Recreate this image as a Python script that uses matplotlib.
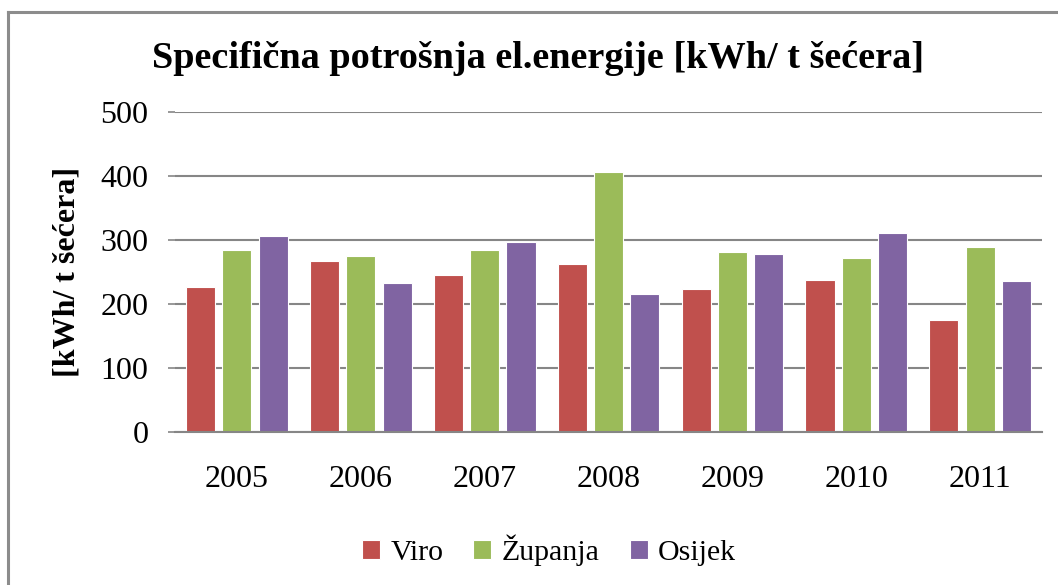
import matplotlib
matplotlib.use("Agg")
import matplotlib.pyplot as plt
from matplotlib.lines import Line2D
import numpy as np

# ── Data ──────────────────────────────────────────────────────────────────────
years   = ["2005", "2006", "2007", "2008", "2009", "2010", "2011"]
viro    = [227, 267, 246, 262, 224, 237, 175]
zupanja = [285, 275, 284, 406, 281, 272, 289]
osijek  = [307, 233, 297, 215, 278, 311, 236]
series_names = ["Viro", "Županja", "Osijek"]
y_ticks = [0, 100, 200, 300, 400, 500]

# ── Style ─────────────────────────────────────────────────────────────────────
RED    = "#C0504D"
GREEN  = "#9BBB59"
PURPLE = "#8064A2"
GRIDC  = "#868686"
BORDER = "#8C8C8C"

plt.rcParams["font.family"] = ["Liberation Serif", "DejaVu Serif"]

fig = plt.figure(figsize=(10.58, 5.85), dpi=100)
ax = fig.add_axes([0.1654, 0.2615, 0.8196, 0.547])

x = np.arange(len(years))
step = 0.293
width = 0.235
for i, (vals, col, name) in enumerate(zip([viro, zupanja, osijek], [RED, GREEN, PURPLE], series_names)):
    ax.bar(x + (i - 1) * step, vals, width=width, color=col, edgecolor="white",
           linewidth=0.8, label=name, zorder=3)

ax.set_xlim(-0.5, len(years) - 0.5)
ax.set_ylim(0, 500)
ax.set_yticks(y_ticks)
ax.set_xticks(x)
ax.set_xticklabels(years)
ax.tick_params(axis="x", length=0, pad=24, labelsize=23)
ax.tick_params(axis="y", length=5, width=1.2, color=GRIDC, pad=14, labelsize=23)
ax.yaxis.grid(True, color=GRIDC, linewidth=1.5, zorder=0)
ax.set_axisbelow(True)
for side in ["top", "right", "left"]:
    ax.spines[side].set_visible(False)
ax.spines["bottom"].set_color(GRIDC)
ax.spines["bottom"].set_linewidth(1.5)
ax.spines["bottom"].set_zorder(4)

ax.set_ylabel("[kWh/ t šećera]", fontsize=23, fontweight="bold", labelpad=14)

fig.text(0.509, 0.90, "Specifična potrošnja el.energije [kWh/ t šećera]",
         ha="center", va="center", fontsize=27.5, fontweight="bold")

fig.legend(loc="center", bbox_to_anchor=(0.519, 0.06), ncol=3, frameon=False,
           fontsize=21.5, handlelength=0.6, handleheight=0.6, handletextpad=0.35,
           columnspacing=1.0)

# outer chart border (left and top edges visible)
fig.add_artist(Line2D([8 / 1058, 8 / 1058], [0, 573 / 585], transform=fig.transFigure,
                      color=BORDER, linewidth=2.2))
fig.add_artist(Line2D([8 / 1058, 1.0], [573 / 585, 573 / 585], transform=fig.transFigure,
                      color=BORDER, linewidth=2.2))

fig.savefig("out.png", dpi=100, facecolor="white")
